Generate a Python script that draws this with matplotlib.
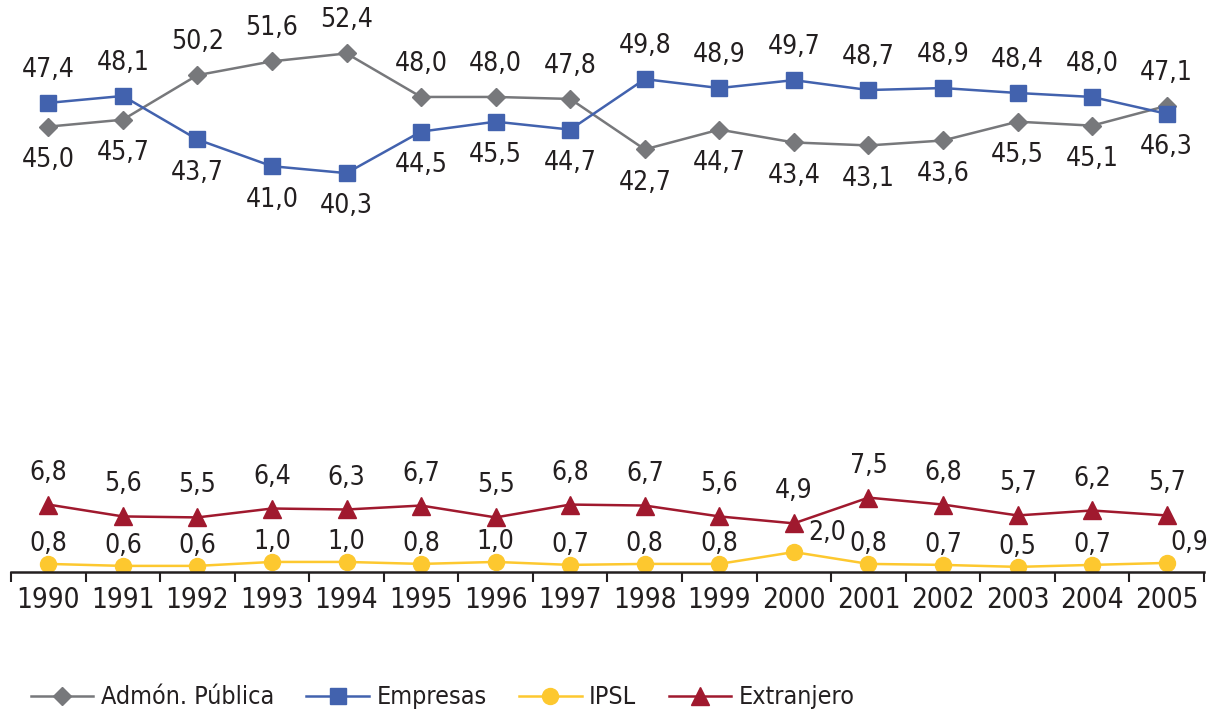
import numpy as np
import matplotlib.pyplot as plt
from matplotlib import font_manager as fm

# look for a condensed face, the original uses a narrow sans
narrow = None
for f in fm.fontManager.ttflist:
    if 'Narrow' in f.name or 'Condensed' in f.name or 'Condensed' in f.fname or 'Narrow' in f.fname:
        if 'Bold' not in f.fname and 'Oblique' not in f.fname and 'Italic' not in f.fname:
            narrow = f
            break

if narrow is not None:
    plt.rcParams['font.family'] = [narrow.name, 'DejaVu Sans']
    plt.rcParams['font.stretch'] = narrow.stretch
    fs, fs_tick, fs_leg = 19, 20, 18
else:
    plt.rcParams['font.family'] = ['DejaVu Sans']
    fs, fs_tick, fs_leg = 15, 15.5, 15

years = ['1990', '1991', '1992', '1993', '1994', '1995', '1996', '1997',
         '1998', '1999', '2000', '2001', '2002', '2003', '2004', '2005']
admon = [45.0, 45.7, 50.2, 51.6, 52.4, 48.0, 48.0, 47.8,
         42.7, 44.7, 43.4, 43.1, 43.6, 45.5, 45.1, 47.1]
empresas = [47.4, 48.1, 43.7, 41.0, 40.3, 44.5, 45.5, 44.7,
            49.8, 48.9, 49.7, 48.7, 48.9, 48.4, 48.0, 46.3]
ipsl = [0.8, 0.6, 0.6, 1.0, 1.0, 0.8, 1.0, 0.7,
        0.8, 0.8, 2.0, 0.8, 0.7, 0.5, 0.7, 0.9]
extranjero = [6.8, 5.6, 5.5, 6.4, 6.3, 6.7, 5.5, 6.8,
              6.7, 5.6, 4.9, 7.5, 6.8, 5.7, 6.2, 5.7]

c_admon = '#77787b'
c_emp = '#4262ae'
c_ipsl = '#fdc82f'
c_ext = '#a0192e'
c_txt = '#231f20'

fig = plt.figure(figsize=(12.07, 7.13), dpi=100)
ax = fig.add_axes([0.0091, 0.198, 0.9884, 0.802])
x = np.arange(len(years))

ax.plot(x, admon, color=c_admon, lw=1.8, marker='D', ms=9.5, label='Admón. Pública')
ax.plot(x, empresas, color=c_emp, lw=1.8, marker='s', ms=11, label='Empresas')
ax.plot(x, ipsl, color=c_ipsl, lw=1.8, marker='o', ms=11.5, label='IPSL')
ax.plot(x, extranjero, color=c_ext, lw=1.8, marker='^', ms=12.5, label='Extranjero')


def fmt(v):
    return f'{v:.1f}'.replace('.', ',')


for i in x:
    a, e = admon[i], empresas[i]
    a_up = a > e
    ax.annotate(fmt(a), (i, a), xytext=(0, 24 if a_up else -24), textcoords='offset points',
                ha='center', va='center', fontsize=fs, color=c_txt)
    ax.annotate(fmt(e), (i, e), xytext=(0, -24 if a_up else 24), textcoords='offset points',
                ha='center', va='center', fontsize=fs, color=c_txt)
    ax.annotate(fmt(extranjero[i]), (i, extranjero[i]), xytext=(0, 23), textcoords='offset points',
                ha='center', va='center', fontsize=fs, color=c_txt)
    dx = 24 if i == 10 else (16 if i == 15 else 0)
    ax.annotate(fmt(ipsl[i]), (i, ipsl[i]), xytext=(dx, 14), textcoords='offset points',
                ha='center', va='center', fontsize=fs, color=c_txt)

ax.set_xlim(-0.5, 15.5)
ax.set_ylim(0, 57.8)
ax.set_xticks(x)
ax.set_xticklabels(years, fontsize=fs_tick, color=c_txt)
ax.set_xticks(np.arange(-0.5, 16, 1), minor=True)
ax.tick_params(axis='x', which='major', length=0, pad=10)
ax.tick_params(axis='x', which='minor', length=7, width=1.5, color=c_txt)
ax.set_yticks([])
for s in ['top', 'right', 'left']:
    ax.spines[s].set_visible(False)
ax.spines['bottom'].set_linewidth(1.8)
ax.spines['bottom'].set_color(c_txt)

fig.legend(loc='center left', bbox_to_anchor=(0.0067, 0.022), ncol=4, frameon=False,
           fontsize=fs_leg, handlelength=2.5, handletextpad=0.3, columnspacing=1.3,
           labelcolor=c_txt)

fig.savefig('out.png', dpi=100)
